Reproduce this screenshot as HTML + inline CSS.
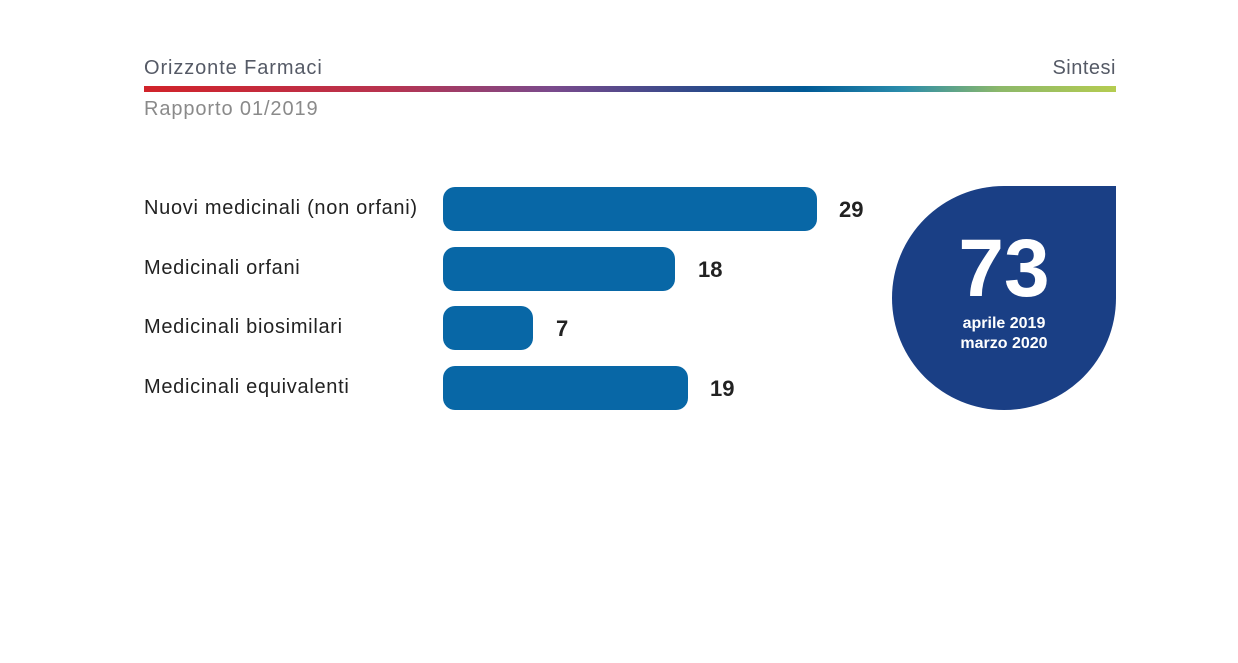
<!DOCTYPE html>
<html><head><style>
body{margin:0;width:1238px;height:663px;background:#fff;position:relative;overflow:hidden;font-family:"Liberation Sans",sans-serif}
.t{position:absolute;color:#555a66;font-size:20px;letter-spacing:0.9px}
.bar{position:absolute;left:443px;height:44px;background:#0867a6;border-radius:12px}
.lab{position:absolute;left:144px;font-size:20px;letter-spacing:0.7px;color:#222}
.v{position:absolute;font-size:22px;font-weight:bold;color:#222}
</style></head><body>
<div class="t" style="left:144px;top:57px">Orizzonte Farmaci</div>
<div class="t" style="right:122px;top:57px;letter-spacing:0.5px">Sintesi</div>
<div style="position:absolute;left:144px;top:86px;width:972px;height:6px;background:linear-gradient(90deg,#d1232a 0%,#b8334f 25%,#7a4a8c 42%,#2a4a8a 58%,#005a96 68%,#2a8cab 78%,#8cb86a 88%,#b5cc50 100%)"></div>
<div class="t" style="left:144px;top:98px;color:#8a8a8a">Rapporto 01/2019</div>

<div class="lab" style="top:197px">Nuovi medicinali (non orfani)</div>
<div class="lab" style="top:257px">Medicinali orfani</div>
<div class="lab" style="top:316px">Medicinali biosimilari</div>
<div class="lab" style="top:376px">Medicinali equivalenti</div>

<div class="bar" style="top:187px;width:374px"></div>
<div class="bar" style="top:247px;width:232px"></div>
<div class="bar" style="top:306px;width:90px"></div>
<div class="bar" style="top:366px;width:245px"></div>

<div class="v" style="left:839px;top:197px">29</div>
<div class="v" style="left:698px;top:257px">18</div>
<div class="v" style="left:556px;top:316px">7</div>
<div class="v" style="left:710px;top:376px">19</div>

<div style="position:absolute;left:892px;top:186px;width:224px;height:224px;background:#1a3f85;border-radius:112px 0 112px 112px;color:#fff;text-align:center">
<div style="font-size:82px;font-weight:bold;margin-top:44px;line-height:78px">73</div>
<div style="font-size:16px;font-weight:bold;line-height:20px;margin-top:6px">aprile 2019<br>marzo 2020</div>
</div>
</body></html>
